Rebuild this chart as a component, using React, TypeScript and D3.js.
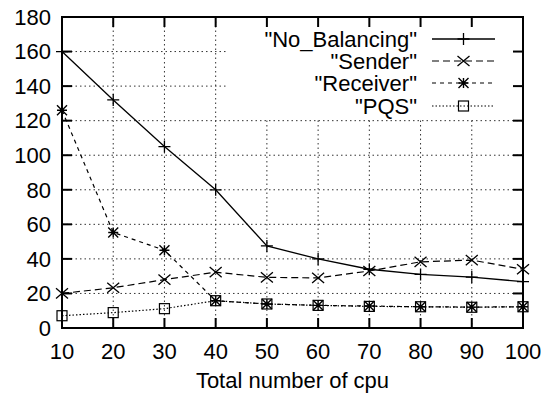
import React from "react";
import * as d3 from "d3";

const cpus = [10, 20, 30, 40, 50, 60, 70, 80, 90, 100];
const noBalancing = [160, 132, 105, 80, 47.5, 40, 34, 31, 29.5, 26.8];
const sender = [20, 23.3, 28, 32.3, 29.3, 29, 33, 38.3, 39.3, 34];
const receiver = [126, 55.3, 45, 15.8, 13.9, 13.1, 12.7, 12.3, 12.1, 12.3];
const pqs = [7.1, 8.9, 11.2, 15.8, 13.9, 13.1, 12.5, 12.3, 12, 12.3];
const xTicks = [10, 20, 30, 40, 50, 60, 70, 80, 90, 100];
const yTicks = [0, 20, 40, 60, 80, 100, 120, 140, 160, 180];
const seriesNames = ['"No_Balancing"', '"Sender"', '"Receiver"', '"PQS"'];

const W = 548, H = 395;
const L = 62, R = 523, T = 17, B = 328;
const FONT = "'Liberation Sans', Arial, Helvetica, sans-serif";
const FS = 22;

type Kind = "plus" | "cross" | "star" | "square";

function Marker({ x, y, kind }: { x: number; y: number; kind: Kind }) {
  const s = 6;
  const plus = `M${x - s},${y}H${x + s}M${x},${y - s}V${y + s}`;
  const cross = `M${x - s},${y - s * 0.85}L${x + s},${y + s * 0.85}M${x - s},${y + s * 0.85}L${x + s},${y - s * 0.85}`;
  if (kind === "plus") return <path d={plus} stroke="#000" strokeWidth={1.3} fill="none" />;
  if (kind === "cross") return <path d={cross} stroke="#000" strokeWidth={1.3} fill="none" />;
  if (kind === "star") {
    const t = 5;
    const d = `M${x - t},${y}H${x + t}M${x},${y - t}V${y + t}M${x - t},${y - t}L${x + t},${y + t}M${x - t},${y + t}L${x + t},${y - t}`;
    return <path d={d} stroke="#000" strokeWidth={1.4} fill="none" />;
  }
  return <rect x={x - 5} y={y - 5} width={10} height={10} stroke="#000" strokeWidth={1.2} fill="none" />;
}

export default function App() {
  const x = d3.scaleLinear().domain([10, 100]).range([L, R]);
  const y = d3.scaleLinear().domain([0, 180]).range([B, T]);
  const line = d3
    .line<[number, number]>()
    .x((d) => x(d[0]))
    .y((d) => y(d[1]));

  const series: { vals: number[]; kind: Kind; dash: string; width: number }[] = [
    { vals: noBalancing, kind: "plus", dash: "none", width: 1.3 },
    { vals: sender, kind: "cross", dash: "7,4", width: 1.2 },
    { vals: receiver, kind: "star", dash: "4,4", width: 1.2 },
    { vals: pqs, kind: "square", dash: "1.5,2", width: 1.2 },
  ];

  const legendTextX = 417;
  const legendLineX0 = 432;
  const legendLineX1 = 495;
  const legendRows = [39, 61, 83, 106];

  return (
    <svg width={W} height={H} style={{ position: "absolute", left: 0, top: 0, background: "#fff" }}>
      <rect x={0} y={0} width={W} height={H} fill="#fff" />
      {/* grid */}
      <g stroke="#333" strokeWidth={1} strokeDasharray="1.5,3">
        {yTicks.slice(1, -1).map((t) => (
          <line key={"gy" + t} x1={L} x2={R} y1={y(t)} y2={y(t)} />
        ))}
        {xTicks.slice(1, -1).map((t) => (
          <line key={"gx" + t} x1={x(t)} x2={x(t)} y1={T} y2={B} />
        ))}
      </g>
      {/* legend blank area */}
      <rect x={228} y={T + 1} width={R - 228 - 1} height={118 - T - 1} fill="#fff" />
      {/* series */}
      {series.map((s, i) => (
        <g key={"s" + i}>
          <path
            d={line(cpus.map((c, j) => [c, s.vals[j]] as [number, number])) || ""}
            fill="none"
            stroke="#000"
            strokeWidth={s.width}
            strokeDasharray={s.dash}
          />
          {cpus.map((c, j) => (
            <Marker key={j} x={x(c)} y={y(s.vals[j])} kind={s.kind} />
          ))}
        </g>
      ))}
      {/* legend */}
      {series.map((s, i) => (
        <g key={"l" + i}>
          <text
            x={legendTextX}
            y={legendRows[i] + 7.8}
            textAnchor="end"
            fontFamily={FONT}
            fontSize={FS}
            fill="#000"
          >
            {seriesNames[i]}
          </text>
          <line
            x1={legendLineX0}
            x2={legendLineX1}
            y1={legendRows[i]}
            y2={legendRows[i]}
            stroke="#000"
            strokeWidth={s.width}
            strokeDasharray={s.dash}
          />
          <Marker x={(legendLineX0 + legendLineX1) / 2} y={legendRows[i]} kind={s.kind} />
        </g>
      ))}
      {/* frame */}
      <rect x={L} y={T} width={R - L} height={B - T} fill="none" stroke="#000" strokeWidth={2} />
      {/* ticks */}
      <g stroke="#000" strokeWidth={2}>
        {yTicks.map((t) => (
          <g key={"ty" + t}>
            <line x1={L} x2={L + 10} y1={y(t)} y2={y(t)} />
            <line x1={R} x2={R - 10} y1={y(t)} y2={y(t)} />
          </g>
        ))}
        {xTicks.map((t) => (
          <g key={"tx" + t}>
            <line x1={x(t)} x2={x(t)} y1={B} y2={B - 10} />
            <line x1={x(t)} x2={x(t)} y1={T} y2={T + 10} />
          </g>
        ))}
      </g>
      {/* tick labels */}
      {yTicks.map((t) => (
        <text
          key={"ly" + t}
          x={51}
          y={y(t) + 7.8}
          textAnchor="end"
          fontFamily={FONT}
          fontSize={FS}
          fill="#000"
        >
          {t}
        </text>
      ))}
      {xTicks.map((t) => (
        <text
          key={"lx" + t}
          x={x(t)}
          y={359}
          textAnchor="middle"
          fontFamily={FONT}
          fontSize={FS}
          fill="#000"
        >
          {t}
        </text>
      ))}
      <text
        x={(L + R) / 2}
        y={388}
        textAnchor="middle"
        fontFamily={FONT}
        fontSize={FS}
        fill="#000"
      >
        Total number of cpu
      </text>
    </svg>
  );
}
